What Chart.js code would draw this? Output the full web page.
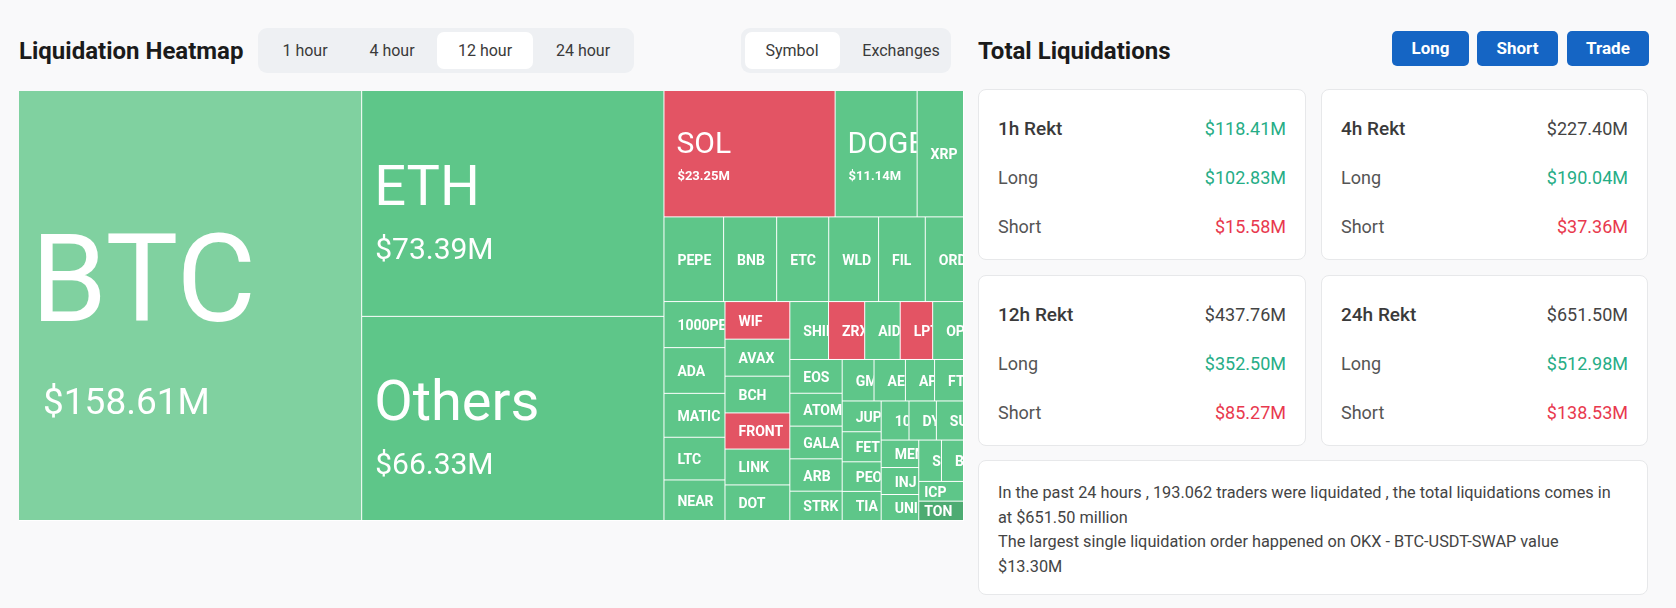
<!DOCTYPE html>
<html>
<head>
<meta charset="utf-8">
<script src="https://cdn.jsdelivr.net/npm/chart.js@4.4.1/dist/chart.umd.min.js"></script>
<style>
  body { margin: 0; width: 1676px; height: 608px; background: #f9f9fa; font-family: Roboto, "Noto Sans", sans-serif; position: relative; overflow: hidden; color: #222; }
  .title { position: absolute; font-weight: 700; font-size: 24px; color: #1b1b1b; line-height: 30px; }
  .seg { position: absolute; top: 28px; height: 45px; background: #eef0f3; border-radius: 9px; }
  .seg .pill { position: absolute; top: 4px; height: 37px; background: #fff; border-radius: 7px; }
  .seg span { position: absolute; top: 0; line-height: 45px; font-size: 16px; color: #3a3a3a; transform: translateX(-50%); white-space: nowrap; }
  .btn { position: absolute; top: 31px; height: 35px; line-height: 35px; background: #1565c4; color: #fff; font-weight: 700; font-size: 17px; text-align: center; border-radius: 5px; }
  .card { position: absolute; background: #fff; border: 1px solid #e7e8ea; border-radius: 8px; box-sizing: border-box; }
  .row { position: absolute; left: 19px; right: 19px; height: 24px; line-height: 24px; font-size: 18px; }
  .row .k { position: absolute; left: 0; color: #555; }
  .row .v { position: absolute; right: 0; }
  .row.head .k { color: #3a3a3a; font-weight: 500; font-size: 19px; }
  .up { color: #26ad86; }
  .down { color: #e8394e; }
  .flat { color: #444; }
  .note { position: absolute; left: 978px; top: 460px; width: 670px; height: 135px; }
  .note p { margin: 0; position: absolute; left: 19px; top: 20px; width: 622px; font-size: 16.3px; line-height: 24.5px; color: #444; }
  #heatWrap { position: absolute; left: 19px; top: 91px; width: 945px; height: 430px; }
  #heatmap { background: #fff; }
</style>
</head>
<body>

<div class="title" style="left:19px;top:36px;">Liquidation Heatmap</div>
<div class="seg" style="left:258px;width:376px;">
  <div class="pill" style="left:179px;width:96px;"></div>
  <span style="left:47px;">1 hour</span>
  <span style="left:134px;">4 hour</span>
  <span style="left:227px;">12 hour</span>
  <span style="left:325px;">24 hour</span>
</div>
<div class="seg" style="left:741px;width:210px;">
  <div class="pill" style="left:4px;width:95px;"></div>
  <span style="left:51px;">Symbol</span>
  <span style="left:160px;">Exchanges</span>
</div>

<div id="heatWrap"><canvas id="heatmap" width="945" height="430"></canvas></div>

<div class="title" style="left:978px;top:36px;">Total Liquidations</div>
<div class="btn" style="left:1392px;width:77px;">Long</div>
<div class="btn" style="left:1477px;width:81px;">Short</div>
<div class="btn" style="left:1567px;width:82px;">Trade</div>

<div id="cards"></div>

<div class="card note">
  <p>In the past 24 hours , 193.062 traders were liquidated , the total liquidations comes in at $651.50 million<br>The largest single liquidation order happened on OKX - BTC-USDT-SWAP value $13.30M</p>
</div>

<script>
// 12 hour liquidations by symbol, USD millions (sorted, largest first)
var symbols = ['BTC', 'ETH', 'Others', 'SOL', 'DOGE', 'XRP',
  'PEPE', 'BNB', 'ETC', 'WLD', 'FIL', 'ORDI',
  '1000PEPE', 'ADA', 'MATIC', 'LTC', 'NEAR',
  'WIF', 'AVAX', 'BCH', 'FRONT', 'LINK', 'DOT',
  'SHIB', 'ZRX', 'AIDOGE', 'LPT', 'OP',
  'EOS', 'ATOM', 'GALA', 'ARB', 'STRK',
  'GMT', 'AEVO', 'APT', 'FTM',
  'JUP', 'FET', 'PEOPLE', 'TIA',
  '1000SATS', 'DYDX', 'SUI',
  'MEME', 'INJ', 'UNI',
  'SEI', 'BOME',
  'ICP', 'TON'];
var liqValues = [158.61, 73.39, 66.33, 23.25, 11.14, 6.30,
  5.43, 4.83, 4.74, 4.54, 4.25, 3.48,
  3.02, 3.00, 2.88, 2.80, 2.66,
  2.62, 2.58, 2.56, 2.52, 2.50, 2.48,
  2.41, 2.25, 2.21, 2.02, 1.92,
  1.90, 1.85, 1.84, 1.82, 1.65,
  1.42, 1.40, 1.30, 1.29,
  1.29, 1.26, 1.24, 1.22,
  1.17, 1.15, 1.14,
  1.11, 1.09, 1.05,
  1.01, 0.98,
  0.95, 0.93];
// symbols where shorts got liquidated more (red cells)
var shortHeavy = ['SOL', 'WIF', 'FRONT', 'ZRX', 'LPT'];

// Total liquidations cards
var periods = ['1h Rekt', '4h Rekt', '12h Rekt', '24h Rekt'];
var totalRekt = [118.41, 227.40, 437.76, 651.50];
var longRekt = [102.83, 190.04, 352.50, 512.98];
var shortRekt = [15.58, 37.36, 85.27, 138.53];

function fmt(v) { return '$' + v.toFixed(2) + 'M'; }

// cards
var cardPos = [[978, 89], [1321, 89], [978, 275], [1321, 275]];
var html = '';
periods.forEach(function (p, i) {
  var headCls = i === 0 ? 'up' : 'flat';
  html += '<div class="card" style="left:' + cardPos[i][0] + 'px;top:' + cardPos[i][1] + 'px;width:' + (i % 2 ? 327 : 328) + 'px;height:171px;">' +
    '<div class="row head" style="top:27px;"><span class="k">' + p + '</span><span class="v ' + headCls + '">' + fmt(totalRekt[i]) + '</span></div>' +
    '<div class="row" style="top:76px;"><span class="k">Long</span><span class="v up">' + fmt(longRekt[i]) + '</span></div>' +
    '<div class="row" style="top:125px;"><span class="k">Short</span><span class="v down">' + fmt(shortRekt[i]) + '</span></div>' +
    '</div>';
});
document.getElementById('cards').innerHTML = html;

// squarified layout (golden ratio), same idea as d3.treemapSquarify
function squarify(values, x0, y0, x1, y1) {
  var ratio = (1 + Math.sqrt(5)) / 2;
  var out = [];
  var value = values.reduce(function (a, b) { return a + b; }, 0);
  var i0 = 0, i1 = 0, n = values.length;
  while (i0 < n) {
    var dx = x1 - x0, dy = y1 - y0;
    var sum = values[i1++];
    var minV = sum, maxV = sum;
    var alpha = Math.max(dy / dx, dx / dy) / (value * ratio);
    var beta = sum * sum * alpha;
    var minRatio = Math.max(maxV / beta, beta / minV);
    for (; i1 < n; ++i1) {
      var v = values[i1];
      sum += v;
      if (v < minV) minV = v;
      if (v > maxV) maxV = v;
      beta = sum * sum * alpha;
      var r = Math.max(maxV / beta, beta / minV);
      if (r > minRatio) { sum -= v; break; }
      minRatio = r;
    }
    var k;
    if (dx < dy) {
      var yb = i1 >= n ? y1 : y0 + dy * sum / value, x = x0;
      for (k = i0; k < i1; k++) {
        var w = dx * values[k] / sum;
        out[k] = { x0: x, y0: y0, x1: x + w, y1: yb };
        x += w;
      }
      y0 = yb;
    } else {
      var xb = i1 >= n ? x1 : x0 + dx * sum / value, y = y0;
      for (k = i0; k < i1; k++) {
        var h = dy * values[k] / sum;
        out[k] = { x0: x0, y0: y, x1: xb, y1: y + h };
        y += h;
      }
      x0 = xb;
    }
    value -= sum;
    i0 = i1;
  }
  return out;
}

function labelStyle(v) {
  if (v >= 100) return { name: 122, val: 37, bold: false, nameDy: 15, valDy: 108, valPad: 24 };
  if (v >= 50) return { name: 56, val: 30, bold: false, nameDy: 1, valDy: 55, valPad: 13 };
  if (v >= 10) return { name: 30, val: 13, bold: true, nameDy: -1, valDy: 26, valPad: 13 };
  return null;
}

class TreemapCell extends Chart.Element {
  draw(ctx) {
    var x = this.x, y = this.y, w = this.width, h = this.height;
    ctx.save();
    ctx.fillStyle = this.color;
    ctx.fillRect(x, y, w - 1, h - 1);
    ctx.beginPath();
    ctx.rect(x, y, w - 1, h - 1);
    ctx.clip();
    ctx.fillStyle = '#fff';
    ctx.textBaseline = 'alphabetic';
    var cy = y + h / 2;
    var st = labelStyle(this.value);
    if (st) {
      ctx.font = '400 ' + st.name + 'px Roboto';
      ctx.fillText(this.label, x + 12, cy + st.nameDy);
      ctx.font = (st.bold ? '700 ' : '400 ') + st.val + 'px Roboto';
      ctx.fillText(fmt(this.value), x + st.valPad, cy + st.valDy);
    } else {
      ctx.font = '700 14px Roboto';
      ctx.fillText(this.label, x + (h < 25 ? 5 : 13), cy + 5);
    }
    ctx.restore();
  }
}
TreemapCell.id = 'treemapCell';
TreemapCell.defaults = {};

class TreemapController extends Chart.DatasetController {
  parse(start, count) {
    var meta = this._cachedMeta;
    for (var i = start; i < start + count; i++) meta._parsed[i] = { x: i, y: this._data[i] };
  }
  update(mode) {
    var meta = this._cachedMeta;
    var ds = this.getDataset();
    var labels = this.chart.data.labels;
    var xs = meta.xScale, ys = meta.yScale;
    var rects = squarify(this._data,
      xs.getPixelForValue(xs.min), ys.getPixelForValue(ys.max),
      xs.getPixelForValue(xs.max), ys.getPixelForValue(ys.min));
    var data = this._data;
    meta.data.forEach(function (el, i) {
      var r = rects[i];
      el.x = r.x0;
      el.y = r.y0;
      el.width = r.x1 - r.x0;
      el.height = r.y1 - r.y0;
      el.label = labels[i];
      el.value = data[i];
      el.color = ds.backgroundColor[i];
    });
  }
  updateElements() {}
}
TreemapController.id = 'treemap';
TreemapController.defaults = { dataElementType: 'treemapCell' };

Chart.register(TreemapCell, TreemapController);

var cellColors = symbols.map(function (s) {
  if (s === 'BTC') return '#80d1a0';
  if (s === 'TON') return '#4dab72';
  return shortHeavy.indexOf(s) >= 0 ? '#e35464' : '#5ec689';
});

var heatChart = new Chart(document.getElementById('heatmap'), {
  type: 'treemap',
  data: {
    labels: symbols,
    datasets: [{ data: liqValues, backgroundColor: cellColors }]
  },
  options: {
    responsive: false,
    animation: false,
    devicePixelRatio: 1,
    events: [],
    layout: { padding: 0 },
    scales: {
      x: { type: 'linear', min: 0, max: 1, display: false },
      y: { type: 'linear', min: 0, max: 1, display: false }
    },
    plugins: { legend: false, tooltip: false, title: false, subtitle: false, colors: false, decimation: false, filler: false }
  }
});
</script>
</body>
</html>
